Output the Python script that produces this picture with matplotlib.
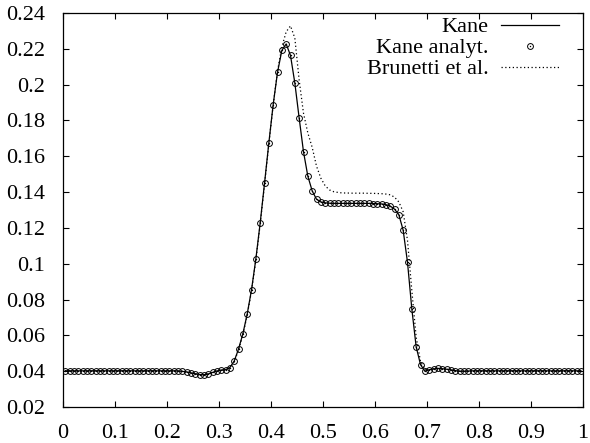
import numpy as np
import matplotlib
matplotlib.use("Agg")
import matplotlib.pyplot as plt
from matplotlib.ticker import FormatStrFormatter

plt.rcParams['font.family'] = ['Liberation Serif', 'DejaVu Serif']
plt.rcParams['font.size'] = 16

# cell-centred profiles on 120 cells
kane = [
    0.0402, 0.0402, 0.0402, 0.0402, 0.0402, 0.0402, 0.0402, 0.0402, 0.0402, 0.0402,
    0.0402, 0.0402, 0.0402, 0.0402, 0.0402, 0.0402, 0.0402, 0.0402, 0.0402, 0.0402,
    0.0402, 0.0402, 0.0402, 0.0402, 0.0402, 0.0402, 0.0401, 0.0399, 0.0396, 0.0391,
    0.0386, 0.0381, 0.0380, 0.0384, 0.0393, 0.0401, 0.0406, 0.0408, 0.0420, 0.0456,
    0.0523, 0.0608, 0.0718, 0.0854, 0.1026, 0.1227, 0.1448, 0.1674, 0.1888, 0.2068,
    0.2191, 0.2227, 0.2163, 0.2009, 0.1813, 0.1625, 0.1489, 0.1407, 0.1360, 0.1345,
    0.1340, 0.1338, 0.1337, 0.1337, 0.1337, 0.1337, 0.1337, 0.1337, 0.1337, 0.1337,
    0.1337, 0.1336, 0.1335, 0.1334, 0.1330, 0.1322, 0.1305, 0.1274, 0.1187, 0.1008,
    0.0747, 0.0536, 0.0437, 0.0400, 0.0408, 0.0413, 0.0415, 0.0414, 0.0411, 0.0407,
    0.0403, 0.0400, 0.0400, 0.0401, 0.0402, 0.0402, 0.0402, 0.0402, 0.0402, 0.0402,
    0.0402, 0.0402, 0.0402, 0.0402, 0.0402, 0.0402, 0.0402, 0.0402, 0.0402, 0.0402,
    0.0402, 0.0402, 0.0402, 0.0402, 0.0402, 0.0402, 0.0402, 0.0402, 0.0402, 0.0402,
]

kane_analyt = list(kane)

brunetti = [
    0.0402, 0.0402, 0.0402, 0.0402, 0.0402, 0.0402, 0.0402, 0.0402, 0.0402, 0.0402,
    0.0402, 0.0402, 0.0402, 0.0402, 0.0402, 0.0402, 0.0402, 0.0402, 0.0402, 0.0402,
    0.0402, 0.0402, 0.0402, 0.0402, 0.0402, 0.0402, 0.0401, 0.0399, 0.0396, 0.0391,
    0.0386, 0.0381, 0.0380, 0.0384, 0.0393, 0.0401, 0.0406, 0.0408, 0.0418, 0.0452,
    0.0518, 0.0602, 0.0712, 0.0848, 0.1018, 0.1220, 0.1440, 0.1668, 0.1885, 0.2075,
    0.2210, 0.2295, 0.2328, 0.2260, 0.2025, 0.1840, 0.1730, 0.1650, 0.1545, 0.1478,
    0.1435, 0.1412, 0.1402, 0.1398, 0.1395, 0.1395, 0.1394, 0.1394, 0.1394, 0.1394,
    0.1393, 0.1393, 0.1392, 0.1391, 0.1389, 0.1385, 0.1372, 0.1345, 0.1290, 0.1130,
    0.0850, 0.0590, 0.0455, 0.0410, 0.0408, 0.0413, 0.0415, 0.0414, 0.0411, 0.0407,
    0.0403, 0.0400, 0.0400, 0.0401, 0.0402, 0.0402, 0.0402, 0.0402, 0.0402, 0.0402,
    0.0402, 0.0402, 0.0402, 0.0402, 0.0402, 0.0402, 0.0402, 0.0402, 0.0402, 0.0402,
    0.0402, 0.0402, 0.0402, 0.0402, 0.0402, 0.0402, 0.0402, 0.0402, 0.0402, 0.0402,
]

n_cells = len(kane)
x = (np.arange(n_cells) + 0.5) / n_cells

xticks = [0, 0.1, 0.2, 0.3, 0.4, 0.5, 0.6, 0.7, 0.8, 0.9, 1]
yticks = [0.02, 0.04, 0.06, 0.08, 0.1, 0.12, 0.14, 0.16, 0.18, 0.2, 0.22, 0.24]

fig = plt.figure(figsize=(5.9, 4.43), dpi=100)
ax = fig.add_axes([63 / 590, 1 - 407 / 443, 520 / 590, 394 / 443])

l_brun, = ax.plot(x, brunetti, color='black', lw=0.9, linestyle=(0, (1, 2)))
l_kane, = ax.plot(x, kane, color='black', lw=0.9)
m_circ, = ax.plot(x, kane_analyt, linestyle='none', marker='o', ms=4.2,
                  mfc='none', mec='black', mew=0.7)
m_dot, = ax.plot(x, kane_analyt, linestyle='none', marker='o', ms=1.0,
                 mfc='black', mec='black', mew=0)

ax.set_xlim(0, 1)
ax.set_ylim(0.02, 0.24)
ax.set_xticks(xticks)
ax.set_yticks(yticks)
ax.xaxis.set_major_formatter(FormatStrFormatter('%g'))
ax.yaxis.set_major_formatter(FormatStrFormatter('%g'))
ax.tick_params(direction='in', top=True, right=True, length=4.5, width=0.8)
ax.tick_params(axis='x', pad=12)
ax.tick_params(axis='y', pad=13)
for s in ax.spines.values():
    s.set_linewidth(0.9)

ax.legend([l_kane, (m_circ, m_dot), l_brun],
          ['Kane', 'Kane analyt.', 'Brunetti et al.'],
          loc='upper right', bbox_to_anchor=(0.953, 0.99),
          frameon=False, markerfirst=False, numpoints=1,
          handlelength=2.6, handletextpad=0.55, labelspacing=0.02,
          borderpad=0, borderaxespad=0)

fig.savefig('out.png', dpi=100)
